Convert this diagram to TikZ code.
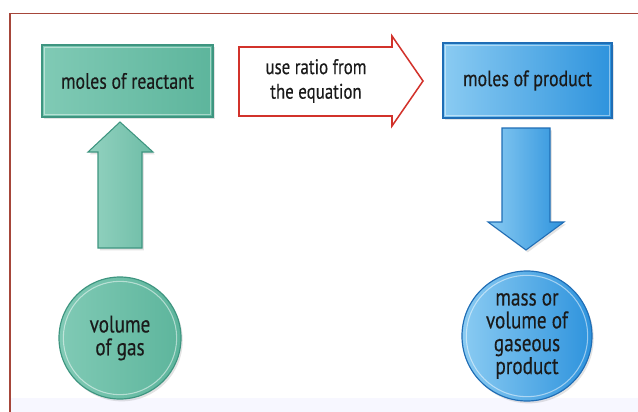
\documentclass[tikz,border=0pt]{standalone}
\usepackage{fontspec}
\newfontfamily\diagfont[FakeStretch=0.8,FakeBold=0.3]{PT Sans}
\usetikzlibrary{shadows}
\definecolor{frameclr}{HTML}{A6463A}
\definecolor{ratioclr}{HTML}{D2322B}
\definecolor{tealdark}{HTML}{3E9580}
\definecolor{tealfill}{HTML}{5DB59C}
\definecolor{teallight}{HTML}{80CAB5}
\definecolor{bluedark}{HTML}{1F6DB5}
\definecolor{bluefill}{HTML}{2E93DD}
\definecolor{bluelight}{HTML}{8ACBF2}
\definecolor{txtclr}{HTML}{1A1A1A}
\tikzset{
    MyShadow/.style={drop shadow={opacity=0.22,shadow xshift=1.5pt,shadow yshift=-2pt}},
    MyText/.style={font=\diagfont\fontsize{18}{21}\selectfont,text=txtclr,align=center},
    % pale line just inside the outline of boxes and discs
    InnerRim/.style={path picture={
        \draw[white,opacity=0.45,line width=0.8pt]
            ([shift={(2pt,2pt)}]path picture bounding box.south west)
            rectangle ([shift={(-2pt,-2pt)}]path picture bounding box.north east);}},
    InnerRing/.style={path picture={
        \draw[white,opacity=0.5,line width=0.9pt]
            (path picture bounding box.center) circle (#1);}},
    TealBox/.style={MyText,MyShadow,InnerRim,draw=tealdark,line width=0.9pt,
        left color=teallight,right color=tealfill,
        font=\diagfont\fontsize{19}{21}\selectfont,
        minimum width=51.3mm,minimum height=21.6mm},
    BlueBox/.style={MyText,MyShadow,InnerRim,draw=bluedark,line width=0.9pt,
        left color=bluelight,right color=bluefill,
        font=\diagfont\fontsize{19}{21}\selectfont,
        minimum width=50.7mm,minimum height=22.5mm},
    Disc/.style={circle,MyText,MyShadow,line width=1pt,inner sep=0pt,
        font=\diagfont\fontsize{20.5}{19.5}\selectfont}
}
\begin{document}
\begin{tikzpicture}[x=0.3mm,y=-0.3mm]
    \useasboundingbox (0,0) rectangle (638,412);

    % page frame and the pale strip at its foot
    \fill[blue!3!white] (10,398) rectangle (638,412);
    \draw[frameclr,line width=0.5mm] (10,412) -- (10,13.5) -- (638,13.5);

    % the two boxes on top
    \node[TealBox] (reactant) at (127.5,81) {moles of reactant};
    \node[BlueBox] (product) at (527.5,80.5) {moles of product};

    % ratio arrow between them
    \draw[ratioclr,line width=1.3pt,fill=white,line join=miter]
        (239,47) -- (392,47) -- (392,36) -- (423,81) -- (392,126)
        -- (392,116) -- (239,116) -- cycle;
    \node[MyText] (ratio) at (316,81) {use ratio from\\the equation};

    % up arrow (gas -> reactant) and down arrow (product -> disc)
    \draw[MyShadow,draw=tealdark,line width=0.9pt,
        left color=teallight!85!white,right color=tealfill!90!white]
        (98,248) -- (98,152) -- (88,152) -- (120,122) -- (153,152)
        -- (142,152) -- (142,248) -- cycle;
    \draw[MyShadow,draw=bluedark,line width=0.9pt,
        left color=bluelight,right color=bluefill]
        (502,128) -- (550,128) -- (550,222) -- (564,222) -- (526,250)
        -- (488,222) -- (502,222) -- cycle;

    % the two discs at the bottom
    \node[Disc,InnerRing=17mm,draw=tealdark,left color=teallight,right color=tealfill,
        minimum size=36.6mm] (gas) at (120,338) {volume\\of gas};
    \node[Disc,InnerRing=18.2mm,draw=bluedark,left color=bluelight,right color=bluefill,
        minimum size=39mm] (gasproduct) at (527,336) {mass or\\volume of\\gaseous\\product};
\end{tikzpicture}
\end{document}
